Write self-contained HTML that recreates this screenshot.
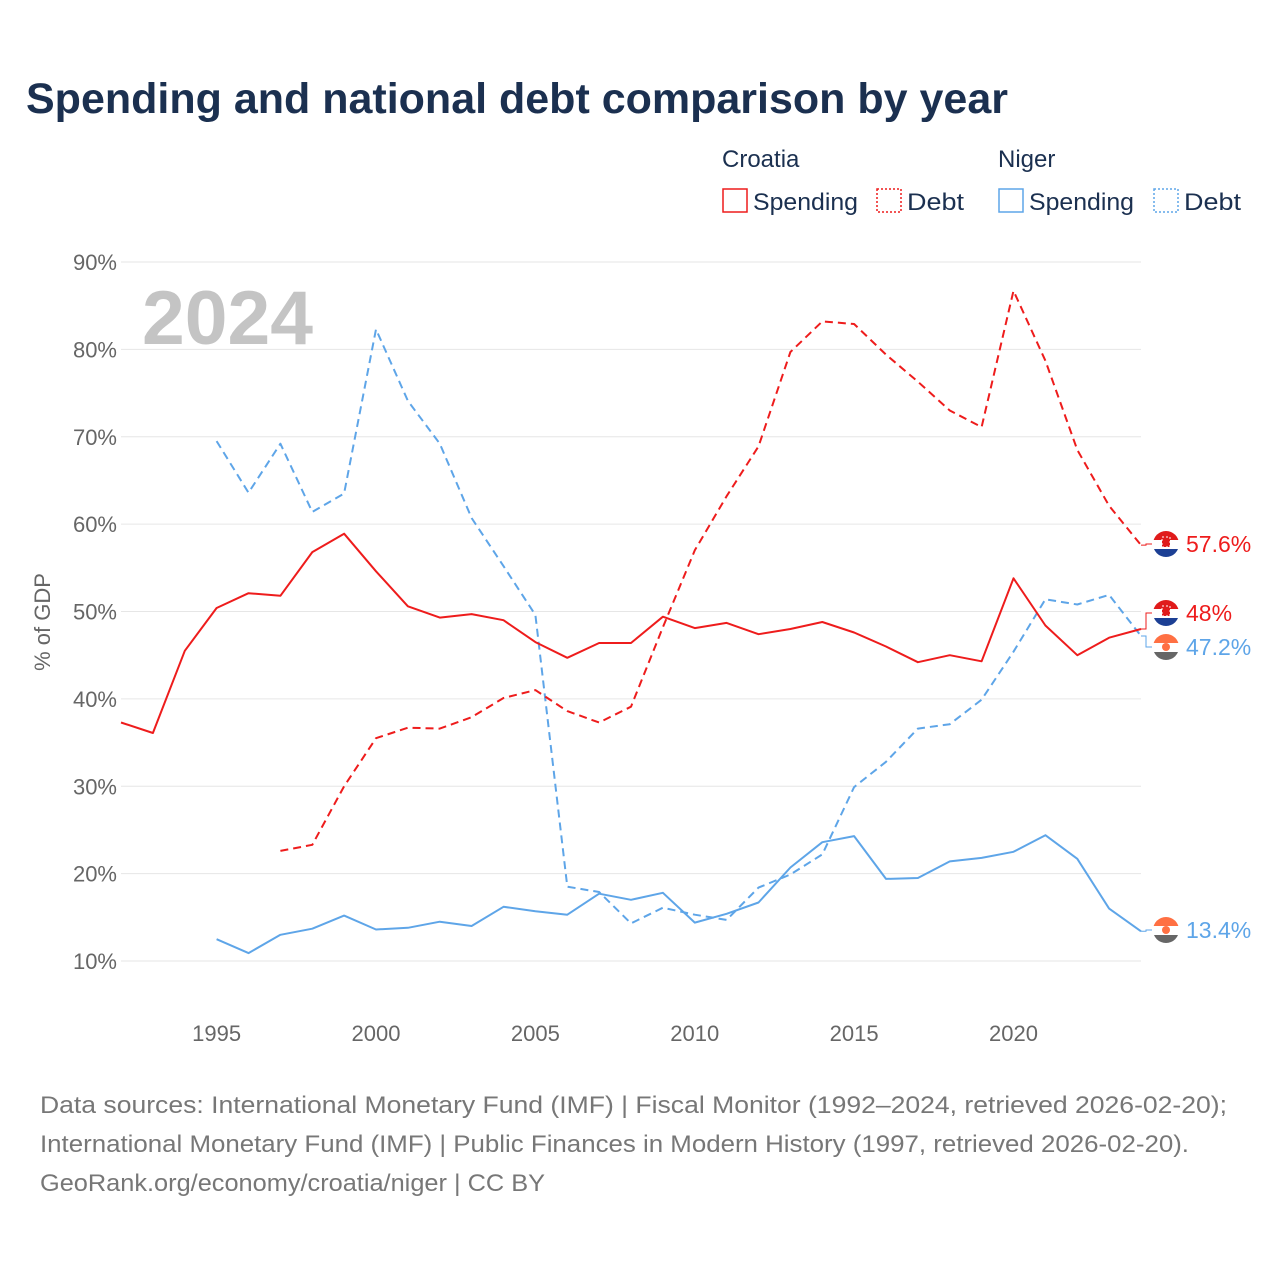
<!DOCTYPE html>
<html><head><meta charset="utf-8">
<style>
body{margin:0;background:#fff;font-family:"Liberation Sans",sans-serif;}
#wrap{position:relative;width:1280px;height:1280px;overflow:hidden}
</style></head>
<body>
<div id="wrap">
<svg id="chart" width="1280" height="1280" style="position:absolute;left:0;top:0"></svg>
</div>
<script>
const years=[];for(let y=1992;y<=2024;y++)years.push(y);
const croSpend=[37.3,36.1,45.5,50.4,52.1,51.8,56.8,58.9,54.6,50.6,49.3,49.7,49.0,46.5,44.7,46.4,46.4,49.4,48.1,48.7,47.4,48.0,48.8,47.6,46.0,44.2,45.0,44.3,53.8,48.4,45.0,47.0,48.0];
const croDebt=[null,null,null,null,null,22.6,23.3,30.0,35.5,36.7,36.6,37.9,40.1,41.0,38.6,37.3,39.1,48.2,57.0,63.2,68.9,79.7,83.2,82.9,79.4,76.3,73.0,71.1,86.7,78.7,68.5,62.1,57.6];
const nigSpend=[null,null,null,12.5,10.9,13.0,13.7,15.2,13.6,13.8,14.5,14.0,16.2,15.7,15.3,17.7,17.0,17.8,14.4,15.4,16.7,20.7,23.6,24.3,19.4,19.5,21.4,21.8,22.5,24.4,21.7,16.0,13.4];
const nigDebt=[null,null,null,69.5,63.6,69.2,61.4,63.5,82.3,74.1,69.2,60.7,55.2,49.6,18.5,17.9,14.3,16.1,15.3,14.7,18.4,19.9,22.2,29.9,32.8,36.6,37.1,39.9,45.4,51.4,50.8,51.9,47.2];
const yTicks=[10,20,30,40,50,60,70,80,90];
const xTicks=[1995,2000,2005,2010,2015,2020];

const NS="http://www.w3.org/2000/svg";
const svg=document.getElementById('chart');
const X=y=>121+(y-1992)*(1141-121)/32;
const Y=v=>961-(v-10)*(961-262)/80;
function el(tag,attrs,parent){const e=document.createElementNS(NS,tag);for(const k in attrs)e.setAttribute(k,attrs[k]);(parent||svg).appendChild(e);return e;}
function txt(s,attrs){const t=el('text',attrs);t.textContent=s;return t;}

let t=txt('Spending and national debt comparison by year',{x:26,y:113,'font-size':43,'font-weight':'bold',fill:'#1b3050',textLength:982,lengthAdjust:'spacingAndGlyphs'});


t=txt('Croatia',{x:722,y:167,'font-size':24,fill:'#1b3050'});
t=txt('Niger',{x:998,y:167,'font-size':24,fill:'#1b3050'});
const legItems=[[722,'#ee1c1c','none','Spending','legend-croatia-spending',105],[876,'#ee1c1c','2,2','Debt','legend-croatia-debt',57],[998,'#5ea5e8','none','Spending','legend-niger-spending',105],[1153,'#5ea5e8','2,2','Debt','legend-niger-debt',57]];
legItems.forEach(l=>{
 const g=el('g',{});
 
 el('rect',{x:l[0]+1,y:189,width:24,height:23,fill:'none',stroke:l[1],'stroke-width':1.5,'stroke-dasharray':l[2]},g);
 const tt=el('text',{x:l[0]+31,y:210,'font-size':24,fill:'#1b3050',textLength:l[5],lengthAdjust:'spacingAndGlyphs'},g);tt.textContent=l[3];
});

yTicks.forEach(v=>{
 const ln=el('line',{x1:121,x2:1141,y1:Y(v),y2:Y(v),stroke:'#e6e6e6','stroke-width':1});
 
 const tk=txt(v+'%',{x:117,y:Y(v)+8,'text-anchor':'end','font-size':22,fill:'#666'});
 
});
xTicks.forEach(yr=>{
 const tk=txt(String(yr),{x:X(yr),y:1041,'text-anchor':'middle','font-size':22,fill:'#666'});
 
});
t=txt('% of GDP',{x:0,y:0,'font-size':22,fill:'#666','text-anchor':'middle',transform:'translate(50,622) rotate(-90)'});


t=txt('2024',{x:142,y:344,'font-size':76,'font-weight':'bold',fill:'#c4c4c4',textLength:171,lengthAdjust:'spacingAndGlyphs'});


function series(arr,color,dash,name){
 let d='';let pen=false;
 arr.forEach((v,i)=>{if(v==null){pen=false;return;}d+=(pen?'L':'M')+X(years[i]).toFixed(1)+','+Y(v).toFixed(1);pen=true;});
 const p=el('path',{d:d,fill:'none',stroke:color,'stroke-width':2,'stroke-dasharray':dash,'stroke-linejoin':'round'});
 
}
series(nigSpend,'#5ea5e8','none','line-niger-spending');
series(nigDebt,'#5ea5e8','8,5','line-niger-debt');
series(croSpend,'#ee1c1c','none','line-croatia-spending');
series(croDebt,'#ee1c1c','8,5','line-croatia-debt');

let cid=0;
function endLabel(v,ly,color,flag,name){
 const g=el('g',{});
 const x0=X(2024),y0=Y(v);
 el('path',{d:`M${x0},${y0}L${x0+5},${y0}L${x0+5},${ly}L${x0+11},${ly}`,fill:'none',stroke:color,'stroke-width':1},g);
 const id='fc'+(cid++);
 const cp=el('clipPath',{id:id},g);el('circle',{cx:1166,cy:ly,r:13},cp);
 const f=el('g',{'clip-path':`url(#${id})`},g);
 if(flag==='hr'){
  el('rect',{x:1153,y:ly-13,width:26,height:9,fill:'#e01b1b'},f);
  el('rect',{x:1153,y:ly-4,width:26,height:9,fill:'#fff'},f);
  el('rect',{x:1153,y:ly+5,width:26,height:9,fill:'#1c3f94'},f);
  el('rect',{x:1162,y:ly-7,width:8,height:10,fill:'#e01b1b',stroke:'#fff','stroke-width':1,'stroke-dasharray':'2,2'},f);
 } else {
  el('rect',{x:1153,y:ly-13,width:26,height:9,fill:'#ff7043'},f);
  el('rect',{x:1153,y:ly-4,width:26,height:9,fill:'#fff'},f);
  el('rect',{x:1153,y:ly+5,width:26,height:9,fill:'#666'},f);
  el('circle',{cx:1166,cy:ly,r:4,fill:'#ff7043'},f);
 }
 const tt=el('text',{x:1186,y:ly+8,'font-size':23,fill:color},g);tt.textContent=(Math.round(v*10)/10)+'%';
}
endLabel(croDebt[32],544,'#ee1c1c','hr','end-label-croatia-debt');
endLabel(croSpend[32],613,'#ee1c1c','hr','end-label-croatia-spending');
endLabel(nigDebt[32],647,'#5ea5e8','ne','end-label-niger-debt');
endLabel(nigSpend[32],930,'#5ea5e8','ne','end-label-niger-spending');

const src=[['Data sources: International Monetary Fund (IMF) | Fiscal Monitor (1992–2024, retrieved 2026-02-20);',1187],['International Monetary Fund (IMF) | Public Finances in Modern History (1997, retrieved 2026-02-20).',1149],['GeoRank.org/economy/croatia/niger | CC BY',505]];
src.forEach((s,i)=>{const tt=txt(s[0],{x:40,y:1113+i*39,'font-size':24,fill:'#777',textLength:s[1],lengthAdjust:'spacingAndGlyphs'});});
</script>
</body></html>
